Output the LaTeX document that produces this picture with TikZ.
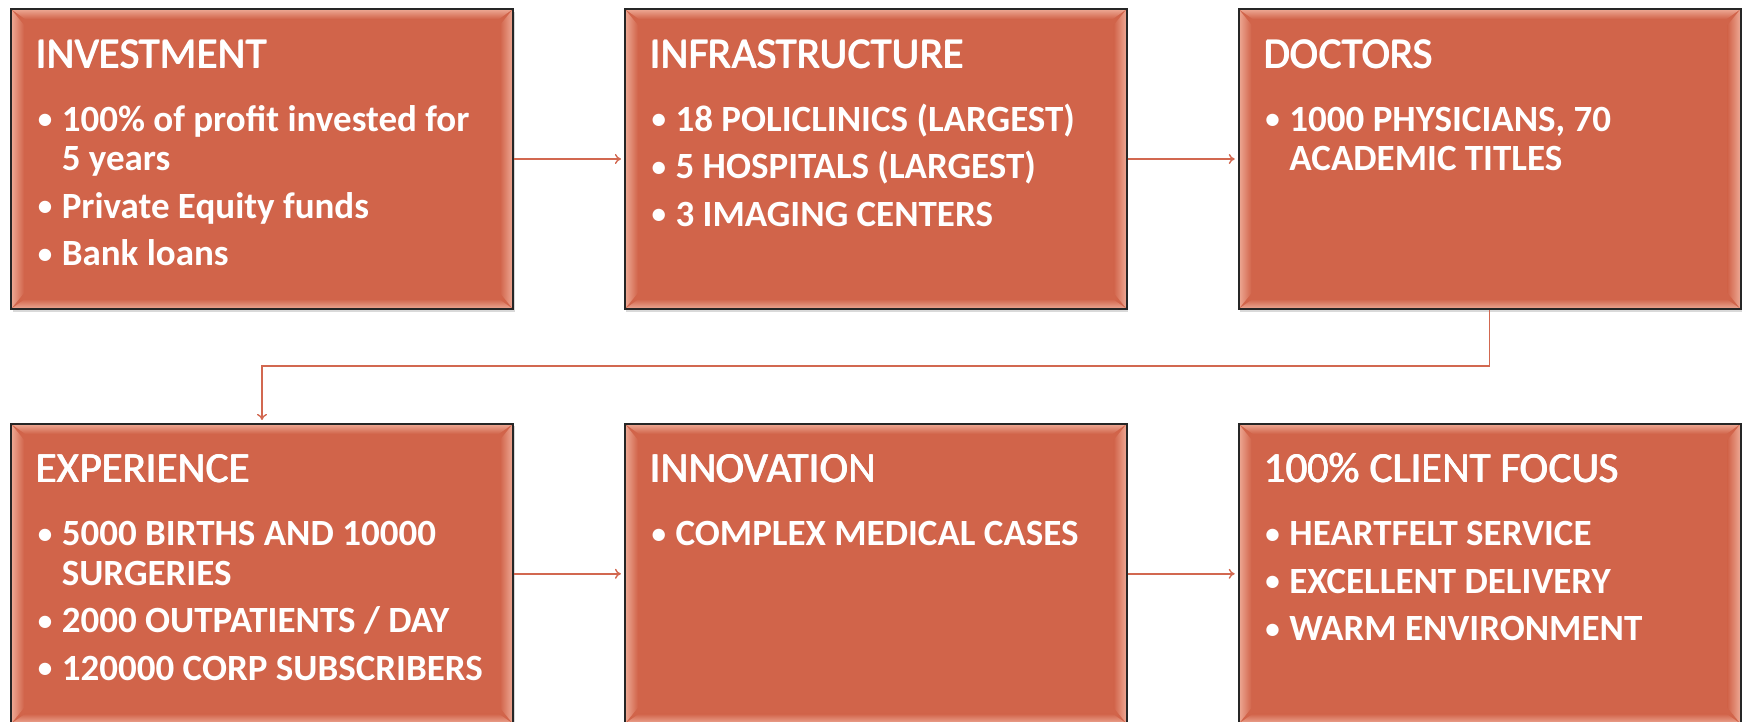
\documentclass[tikz,border=0pt]{standalone}
\usepackage{fontspec}
\setmainfont{Carlito}
\usetikzlibrary{positioning,calc,arrows.meta,shadows}

\definecolor{cardfill}{RGB}{209,100,74}
\definecolor{bevelpink}{RGB}{238,170,150}
\definecolor{bevelwhite}{RGB}{255,228,215}
\definecolor{linkcol}{RGB}{210,104,80}

% card text: title, then bullets
\newcommand{\heavy}[1]{\makebox[0pt][l]{#1}\hspace*{0.9pt}\makebox[0pt][l]{\raisebox{0.4pt}{#1}}#1}
\newcommand{\cardtitle}[1]{{\fontsize{43}{39.5}\selectfont\heavy{#1}}\par\vspace{15.5pt}}
\newcommand{\dotmark}{\raisebox{2.5pt}{\fontsize{29}{29}\selectfont\textbullet}}
\newcommand{\bitem}[1]{\par\vspace{8pt}\hangindent=26pt\hangafter=1\noindent\makebox[26pt][l]{\hspace{2pt}\dotmark}#1}
\newcommand{\cardbody}[2]{\parbox[t]{470pt}{\raggedright\fontsize{37}{39.5}\selectfont\cardtitle{#1}\bfseries #2}}

\begin{document}
\begin{tikzpicture}[
    card/.style={rectangle, draw=black!85, line width=1.8pt, fill=cardfill,
        minimum width=502pt, minimum height=300pt, inner sep=0pt,
        drop shadow={shadow xshift=1.5pt, shadow yshift=-2.5pt, opacity=0.3},
        path picture={
            \coordinate (nw) at (path picture bounding box.north west);
            \coordinate (se) at (path picture bounding box.south east);
            \shade[top color=bevelpink, bottom color=cardfill]
                (nw) -- ($(nw-|se)$) -- ($(nw-|se)+(-14pt,-10pt)$) -- ($(nw)+(14pt,-10pt)$) -- cycle;
            \shade[top color=cardfill, bottom color=bevelpink]
                (se) -- ($(nw|-se)$) -- ($(nw|-se)+(14pt,10pt)$) -- ($(se)+(-14pt,10pt)$) -- cycle;
            \shade[left color=bevelpink, middle color=bevelwhite, right color=cardfill]
                (nw) -- ($(nw)+(13pt,-16pt)$) -- ($(nw|-se)+(13pt,16pt)$) -- ($(nw|-se)$) -- cycle;
            \shade[left color=cardfill, middle color=bevelwhite, right color=bevelpink]
                (se) -- ($(se)+(-13pt,16pt)$) -- ($(nw-|se)+(-13pt,-16pt)$) -- ($(nw-|se)$) -- cycle;
        }},
    cardtext/.style={anchor=base west, inner sep=0pt, text=white},
    link/.style={-{To[length=6pt,width=10pt]}, line width=1.4pt, linkcol, shorten >=3pt}
]
    \useasboundingbox (0,0) rectangle (1743pt,-721pt);

    \node[card] (inv) at (262pt,-159pt) {};
    \node[card, right=110pt of inv] (infra) {};
    \node[card, right=110pt of infra] (doc) {};
    \node[card, below=113pt of inv] (exp) {};
    \node[card, right=110pt of exp] (innov) {};
    \node[card, right=110pt of innov] (focus) {};

    \node[cardtext] (inv-t) at ($(inv.north west)+(25.5pt,-60pt)$) {\cardbody{INVESTMENT}{%
        \bitem{100\% of profit invested for\newline 5 years}
        \bitem{Private Equity funds}
        \bitem{Bank loans}}};
    \node[cardtext] (infra-t) at ($(infra.north west)+(25.5pt,-60pt)$) {\cardbody{INFRASTRUCTURE}{%
        \bitem{18 POLICLINICS (LARGEST)}
        \bitem{5 HOSPITALS (LARGEST)}
        \bitem{3 IMAGING CENTERS}}};
    \node[cardtext] (doc-t) at ($(doc.north west)+(25.5pt,-60pt)$) {\cardbody{DOCTORS}{%
        \bitem{1000 PHYSICIANS, 70\newline ACADEMIC TITLES}}};
    \node[cardtext] (exp-t) at ($(exp.north west)+(25.5pt,-60pt)$) {\cardbody{EXPERIENCE}{%
        \bitem{5000 BIRTHS AND 10000\newline SURGERIES}
        \bitem{2000 OUTPATIENTS / DAY}
        \bitem{120000 CORP SUBSCRIBERS}}};
    \node[cardtext] (innov-t) at ($(innov.north west)+(25.5pt,-60pt)$) {\cardbody{INNOVATION}{%
        \bitem{COMPLEX MEDICAL CASES}}};
    \node[cardtext] (focus-t) at ($(focus.north west)+(25.5pt,-60pt)$) {\cardbody{100\% CLIENT FOCUS}{%
        \bitem{HEARTFELT SERVICE}
        \bitem{EXCELLENT DELIVERY}
        \bitem{WARM ENVIRONMENT}}};

    \draw[link] (inv) -- (infra);
    \draw[link] (infra) -- (doc);
    \draw[link] (doc.south) -- ++(0,-56pt) -| (exp.north);
    \draw[link] (exp) -- (innov);
    \draw[link] (innov) -- (focus);
\end{tikzpicture}
\end{document}
